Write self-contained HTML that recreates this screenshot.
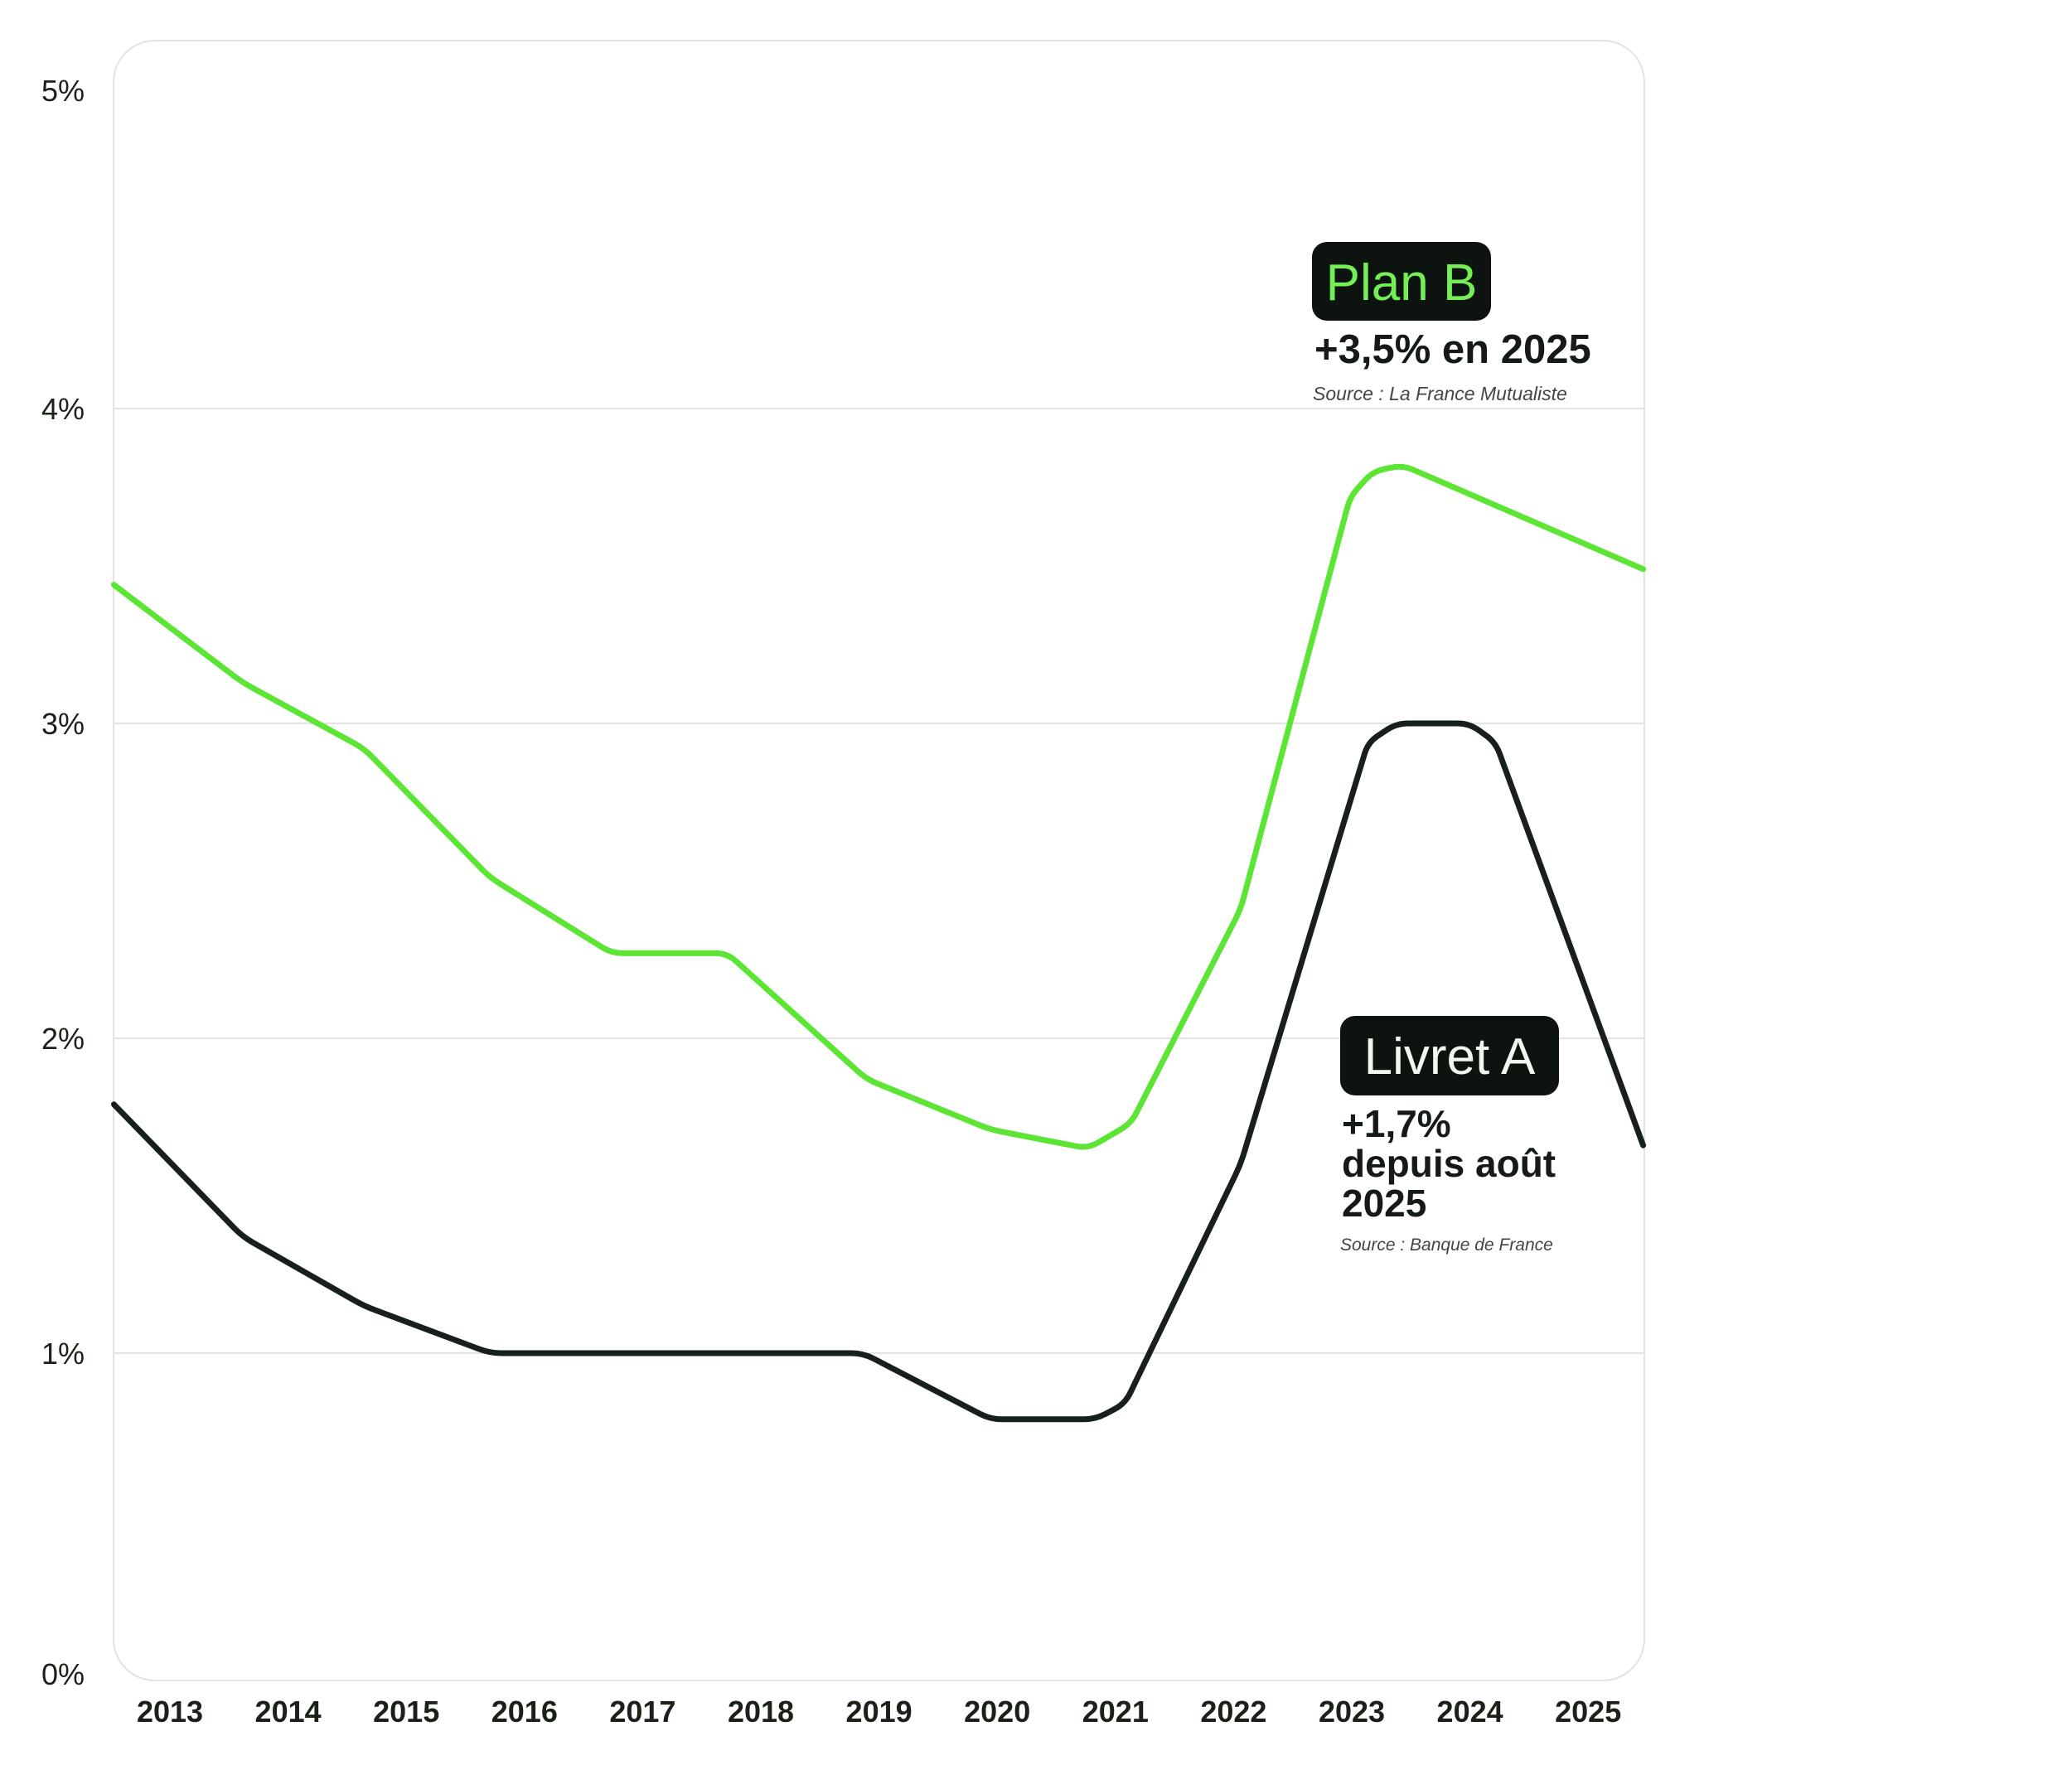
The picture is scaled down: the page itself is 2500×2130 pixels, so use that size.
<!DOCTYPE html>
<html><head><meta charset="utf-8"><style>
html,body{margin:0;padding:0;background:#fff;}
svg{display:block;}
text{font-family:"Liberation Sans",sans-serif;}
</style></head><body>
<svg id="chart" width="2500" height="2130" viewBox="0 0 2500 2130" xmlns="http://www.w3.org/2000/svg">
<rect x="137" y="49" width="1847" height="1979" rx="50" ry="50" fill="#fff" stroke="#e3e3e3" stroke-width="2"/>
<g id="grid"></g><g id="ylabels"></g><g id="xlabels"></g><g id="lines"></g>
<g>
<rect x="1583" y="292" width="216" height="95" rx="18" fill="#0d130e"/>
<text x="1691" y="362" text-anchor="middle" font-size="62" fill="#74ef55">Plan B</text>
<text x="1586" y="438" font-size="49" font-weight="bold" fill="#141a15">+3,5% en 2025</text>
<text x="1584" y="483" font-size="23" font-style="italic" fill="#444">Source : La France Mutualiste</text>
</g>
<g>
<rect x="1617" y="1226" width="264" height="96" rx="18" fill="#0d130e"/>
<text x="1749" y="1296" text-anchor="middle" font-size="62" fill="#f0f8ee">Livret A</text>
<text x="1619" y="1372" font-size="46" font-weight="bold" fill="#141a15">+1,7%</text>
<text x="1619" y="1420" font-size="46" font-weight="bold" fill="#141a15">depuis août</text>
<text x="1619" y="1468" font-size="46" font-weight="bold" fill="#141a15">2025</text>
<text x="1617" y="1509" font-size="21" font-style="italic" fill="#444">Source : Banque de France</text>
</g>
</svg>
<script>
const yTicks=[0,1,2,3,4,5];
const yTickLabels=["0%","1%","2%","3%","4%","5%"];
const years=[2013,2014,2015,2016,2017,2018,2019,2020,2021,2022,2023,2024,2025];
const planBT=[2012.53,2013.61,2014.63,2015.69,2016.71,2017.68,2018.85,2019.89,2020.71,2021.07,2021.99,2022.91,2023.1,2023.35,2025.37];
const planBV=[3.44,3.13,2.92,2.51,2.27,2.27,1.87,1.71,1.65,1.73,2.41,3.72,3.80,3.82,3.49];
const livretT=[2012.53,2013.61,2014.63,2015.69,2018.82,2019.89,2020.77,2021.02,2021.99,2023.06,2023.3,2023.91,2024.13,2025.37];
const livretV=[1.79,1.37,1.15,1.0,1.0,0.79,0.79,0.84,1.60,2.94,3.0,3.0,2.94,1.66];
const NS="http://www.w3.org/2000/svg";
function xS(t){return 205+143.7*(t-2013);}
function xL(t){return 205+142.6*(t-2013);}
function yS(v){return 2013-380*v;}
function mk(tag,attrs,parent,txt){const e=document.createElementNS(NS,tag);for(const k in attrs)e.setAttribute(k,attrs[k]);if(txt!==undefined)e.textContent=txt;parent.appendChild(e);return e;}
const grid=document.getElementById('grid'),yl=document.getElementById('ylabels'),xl=document.getElementById('xlabels'),ln=document.getElementById('lines');
yTicks.forEach((v,i)=>{
  if(v>0&&v<5){const g=mk('line',{x1:137,x2:1984,y1:yS(v),y2:yS(v),stroke:'#e3e3e3','stroke-width':2},grid);
  
  }
  const t=mk('text',{x:76,y:yS(v)+(v===0?20:v===5?9:13),'text-anchor':'middle','font-size':36,fill:'#1a2218'},yl,yTickLabels[i]);
  
  
});
years.forEach(y=>{
  const t=mk('text',{x:xL(y),y:2078,'text-anchor':'middle','font-size':36,'font-weight':'bold',fill:'#1a2218'},xl,String(y));
  
  
});
function rounded(ts,vs,r){
  const p=ts.map((t,i)=>[xS(t),yS(vs[i])]);
  let d='M'+p[0][0]+','+p[0][1];
  for(let i=1;i<p.length-1;i++){
    const a=p[i-1],b=p[i],c=p[i+1];
    const l1=Math.hypot(b[0]-a[0],b[1]-a[1]),l2=Math.hypot(c[0]-b[0],c[1]-b[1]);
    const rr=Math.min(r,l1/2,l2/2);
    const s=[b[0]-(b[0]-a[0])*rr/l1,b[1]-(b[1]-a[1])*rr/l1];
    const e=[b[0]+(c[0]-b[0])*rr/l2,b[1]+(c[1]-b[1])*rr/l2];
    d+=' L'+s[0]+','+s[1]+' Q'+b[0]+','+b[1]+' '+e[0]+','+e[1];
  }
  const l=p[p.length-1];d+=' L'+l[0]+','+l[1];return d;
}
const g1=mk('path',{d:rounded(planBT,planBV,14),fill:'none',stroke:'#5ce535','stroke-width':7,'stroke-linecap':'round','stroke-linejoin':'round'},ln);


const g2=mk('path',{d:rounded(livretT,livretV,14),fill:'none',stroke:'#17201a','stroke-width':7,'stroke-linecap':'round','stroke-linejoin':'round'},ln);


</script>
</body></html>
